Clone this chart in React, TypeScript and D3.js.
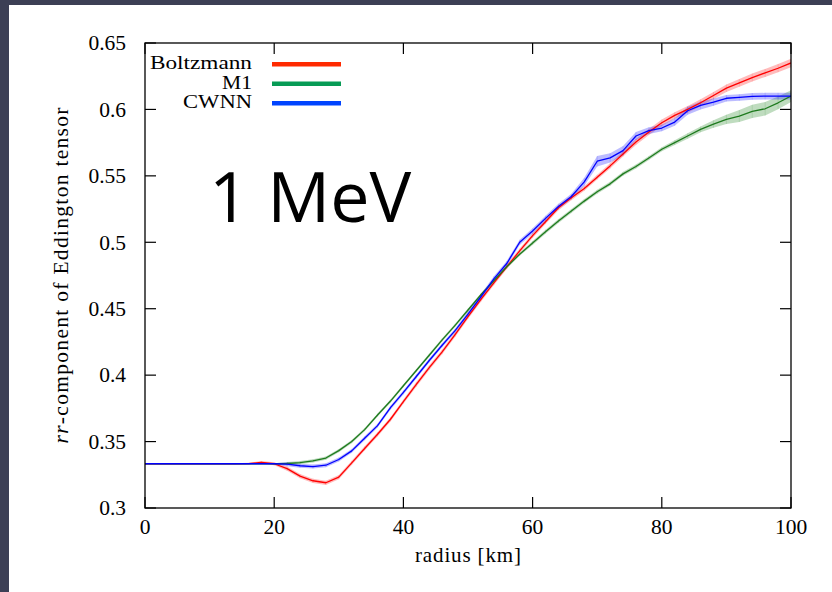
import React from "react";
import * as d3 from "d3";

const radius = [0, 2, 4, 6, 8, 10, 12, 14, 16, 18, 20, 22, 24, 26, 28, 30, 32, 34, 36, 38, 40, 42, 44, 46, 48, 50, 52, 54, 56, 58, 60, 62, 64, 66, 68, 70, 72, 74, 76, 78, 80, 82, 84, 86, 88, 90, 92, 94, 96, 98, 100];

const boltzmann = [0.3333, 0.3333, 0.3333, 0.3333, 0.3333, 0.3333, 0.3333, 0.3333, 0.3334, 0.3343, 0.3333, 0.3296, 0.3240, 0.3205, 0.3190, 0.3232, 0.3340, 0.3448, 0.3555, 0.3668, 0.3800, 0.3930, 0.4057, 0.4175, 0.4305, 0.4440, 0.4570, 0.4695, 0.4816, 0.4935, 0.5050, 0.5155, 0.5260, 0.5335, 0.5405, 0.5490, 0.5575, 0.5665, 0.5755, 0.5830, 0.5900, 0.5955, 0.6000, 0.6050, 0.6105, 0.6160, 0.6200, 0.6240, 0.6275, 0.6310, 0.6350];
const boltzmannErr = [0.0003, 0.0003, 0.0003, 0.0003, 0.0003, 0.0003, 0.0003, 0.0003, 0.0006, 0.0010, 0.0012, 0.0016, 0.0016, 0.0016, 0.0016, 0.0016, 0.0016, 0.0016, 0.0016, 0.0016, 0.0016, 0.0018, 0.0018, 0.0018, 0.0018, 0.0018, 0.0018, 0.0018, 0.0018, 0.0018, 0.0018, 0.0018, 0.0018, 0.0018, 0.0018, 0.0018, 0.0020, 0.0020, 0.0022, 0.0022, 0.0024, 0.0024, 0.0025, 0.0026, 0.0027, 0.0028, 0.0029, 0.0030, 0.0030, 0.0031, 0.0032];

const m1 = [0.3333, 0.3333, 0.3333, 0.3333, 0.3333, 0.3333, 0.3333, 0.3333, 0.3333, 0.3333, 0.3333, 0.3335, 0.3342, 0.3355, 0.3376, 0.3432, 0.3500, 0.3590, 0.3700, 0.3805, 0.3920, 0.4035, 0.4150, 0.4265, 0.4375, 0.4490, 0.4605, 0.4710, 0.4816, 0.4910, 0.4995, 0.5080, 0.5160, 0.5235, 0.5310, 0.5380, 0.5440, 0.5515, 0.5570, 0.5635, 0.5700, 0.5750, 0.5800, 0.5850, 0.5890, 0.5925, 0.5950, 0.5985, 0.6005, 0.6050, 0.6100];
const m1Err = [0, 0, 0, 0, 0, 0, 0, 0, 0, 0, 0.0003, 0.0012, 0.0012, 0.0012, 0.0012, 0.0012, 0.0012, 0.0012, 0.0012, 0.0012, 0.0012, 0.0012, 0.0012, 0.0012, 0.0012, 0.0012, 0.0012, 0.0012, 0.0012, 0.0012, 0.0015, 0.0015, 0.0015, 0.0015, 0.0015, 0.0015, 0.0015, 0.0015, 0.0015, 0.0015, 0.0015, 0.0018, 0.0020, 0.0022, 0.0028, 0.0035, 0.0045, 0.0050, 0.0050, 0.0048, 0.0045];

const cwnn = [0.3333, 0.3333, 0.3333, 0.3333, 0.3333, 0.3333, 0.3333, 0.3333, 0.3333, 0.3333, 0.3333, 0.3330, 0.3318, 0.3312, 0.3322, 0.3365, 0.3430, 0.3525, 0.3620, 0.3755, 0.3870, 0.3990, 0.4110, 0.4225, 0.4335, 0.4460, 0.4590, 0.4725, 0.4840, 0.5000, 0.5085, 0.5180, 0.5270, 0.5345, 0.5455, 0.5610, 0.5635, 0.5690, 0.5800, 0.5840, 0.5860, 0.5905, 0.5990, 0.6030, 0.6055, 0.6084, 0.6090, 0.6098, 0.6100, 0.6100, 0.6100];
const cwnnErr = [0, 0, 0, 0, 0, 0, 0, 0, 0, 0, 0.0004, 0.0015, 0.0015, 0.0015, 0.0015, 0.0015, 0.0015, 0.0015, 0.0015, 0.0015, 0.0015, 0.0015, 0.0015, 0.0015, 0.0015, 0.0020, 0.0020, 0.0020, 0.0020, 0.0020, 0.0020, 0.0020, 0.0020, 0.0020, 0.0030, 0.0040, 0.0035, 0.0035, 0.0030, 0.0025, 0.0025, 0.0028, 0.0030, 0.0030, 0.0028, 0.0025, 0.0025, 0.0025, 0.0025, 0.0025, 0.0025];

const xTicks = [0, 20, 40, 60, 80, 100];
const yTicks = [0.3, 0.35, 0.4, 0.45, 0.5, 0.55, 0.6, 0.65];
const seriesNames = ["Boltzmann", "M1", "CWNN"];
const annotation = "1 MeV";
const xLabel = "radius [km]";

const PLOT = { left: 145, right: 791, top: 43, bottom: 508 };
const SERIF = "Liberation Serif, Times New Roman, serif";

export default function App() {
  const x = d3.scaleLinear().domain([0, 100]).range([PLOT.left, PLOT.right]);
  const y = d3.scaleLinear().domain([0.3, 0.65]).range([PLOT.bottom, PLOT.top]);
  const fmtY = d3.format(".2~f");

  const series = [
    { name: seriesNames[0], values: boltzmann, err: boltzmannErr, line: "#ff0000", band: "#ff2020", legend: "#ff2a00", legendW: 102 },
    { name: seriesNames[1], values: m1, err: m1Err, line: "#1e7a1e", band: "#2a8a2a", legend: "#079b55", legendW: 30 },
    { name: seriesNames[2], values: cwnn, err: cwnnErr, line: "#0000ff", band: "#2020ff", legend: "#0044ff", legendW: 69 },
  ];

  const lineGen = (vals: number[]) =>
    d3.line<number>().x((_, i) => x(radius[i])).y((d) => y(d))(vals) || "";
  const areaGen = (vals: number[], err: number[]) =>
    d3
      .area<number>()
      .x((_, i) => x(radius[i]))
      .y0((d, i) => y(d - err[i]))
      .y1((d, i) => y(d + err[i]))(vals) || "";

  const tickLen = 11;

  return (
    <svg
      width={832}
      height={592}
      style={{ position: "absolute", left: 0, top: 0, display: "block" }}
    >
      <rect x={0} y={0} width={832} height={592} fill="#3c3f55" />
      <rect x={9} y={5} width={823} height={587} fill="#ffffff" />
      <defs>
        <clipPath id="plotClip">
          <rect x={PLOT.left} y={PLOT.top} width={PLOT.right - PLOT.left} height={PLOT.bottom - PLOT.top} />
        </clipPath>
      </defs>

      <g clipPath="url(#plotClip)">
        {series.map((s) => (
          <g key={s.name + "band"}>
            <path d={areaGen(s.values, s.err)} fill={s.band} fillOpacity={0.3} stroke="none" />
            {s.values.map((v, i) =>
              s.err[i] > 0.0008 ? (
                <line
                  key={i}
                  x1={x(radius[i])}
                  x2={x(radius[i])}
                  y1={y(v - s.err[i])}
                  y2={y(v + s.err[i])}
                  stroke={s.band}
                  strokeOpacity={0.18}
                  strokeWidth={0.8}
                />
              ) : null
            )}
          </g>
        ))}
        {series.map((s) => (
          <path key={s.name + "line"} d={lineGen(s.values)} fill="none" stroke={s.line} strokeWidth={1.3} strokeLinejoin="round" />
        ))}
      </g>

      <rect
        x={PLOT.left}
        y={PLOT.top}
        width={PLOT.right - PLOT.left}
        height={PLOT.bottom - PLOT.top}
        fill="none"
        stroke="#000"
        strokeWidth={1.3}
      />

      {xTicks.map((t) => (
        <g key={"xt" + t}>
          <line x1={x(t)} x2={x(t)} y1={PLOT.bottom} y2={PLOT.bottom - tickLen} stroke="#000" strokeWidth={1.2} />
          <line x1={x(t)} x2={x(t)} y1={PLOT.top} y2={PLOT.top + tickLen} stroke="#000" strokeWidth={1.2} />
          <text x={x(t)} y={534} textAnchor="middle" fontFamily={SERIF} fontSize={21.5} fill="#000">
            {t}
          </text>
        </g>
      ))}

      {yTicks.map((t) => (
        <g key={"yt" + t}>
          <line x1={PLOT.left} x2={PLOT.left + tickLen} y1={y(t)} y2={y(t)} stroke="#000" strokeWidth={1.2} />
          <line x1={PLOT.right} x2={PLOT.right - tickLen} y1={y(t)} y2={y(t)} stroke="#000" strokeWidth={1.2} />
          <text x={126} y={y(t)} dy="0.34em" textAnchor="end" fontFamily={SERIF} fontSize={21.5} fill="#000">
            {fmtY(t)}
          </text>
        </g>
      ))}

      <text
        x={(PLOT.left + PLOT.right) / 2}
        y={562}
        textAnchor="middle"
        fontFamily={SERIF}
        fontSize={21}
        textLength={106}
        lengthAdjust="spacing"
        fill="#000"
      >
        {xLabel}
      </text>
      <text
        transform={`translate(68, ${(PLOT.top + PLOT.bottom) / 2}) rotate(-90)`}
        textAnchor="middle"
        fontFamily={SERIF}
        fontSize={21.5}
        textLength={336}
        lengthAdjust="spacing"
        fill="#000"
      >
        <tspan fontStyle="italic">rr</tspan>
        <tspan>-component of Eddington tensor</tspan>
      </text>

      {series.map((s, i) => {
        const cy = 64.3 + i * 19.5;
        return (
          <g key={s.name + "legend"}>
            <text
              x={252}
              y={cy + 5}
              textAnchor="end"
              fontFamily={SERIF}
              fontSize={19.5}
              textLength={s.legendW}
              lengthAdjust="spacingAndGlyphs"
              fill="#000"
            >
              {s.name}
            </text>
            <line x1={272} x2={341} y1={cy} y2={cy} stroke={s.legend} strokeWidth={4.5} />
          </g>
        );
      })}

      <text
        x={209}
        y={222}
        fontFamily="Open Sans, Noto Sans, sans-serif"
        fontWeight={400}
        fontSize={70}
        fill="#000"
      >
        {annotation}
      </text>
    </svg>
  );
}
